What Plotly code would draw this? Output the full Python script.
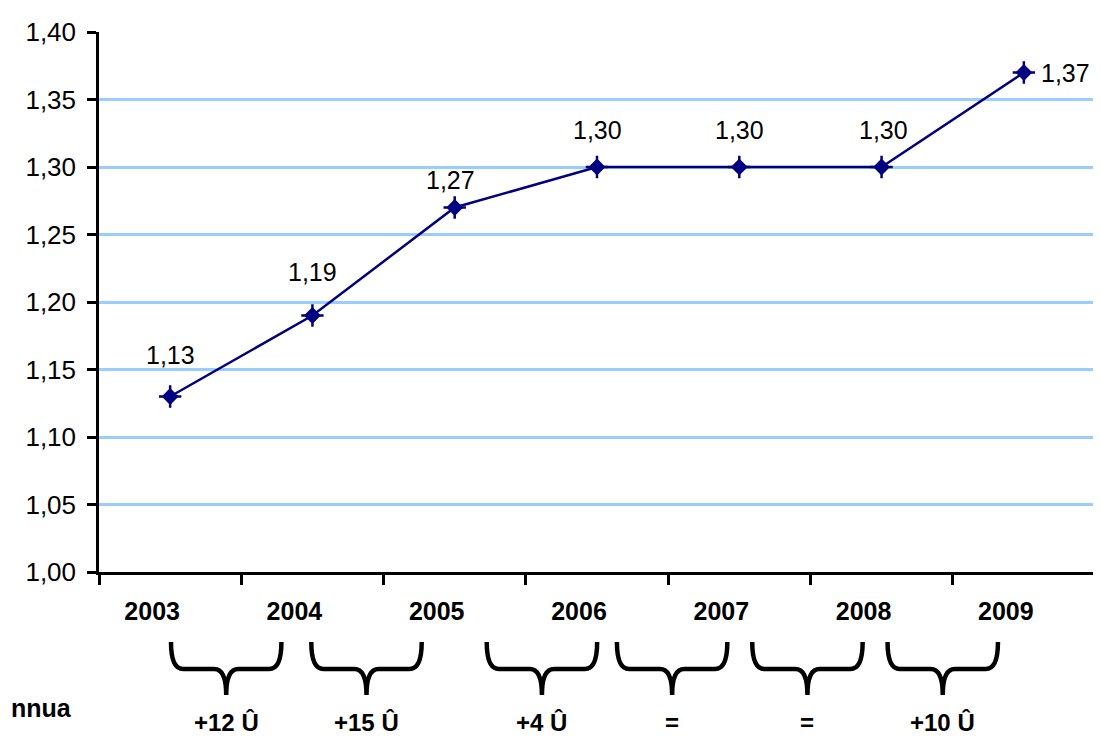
import plotly.graph_objects as go

years = ["2003", "2004", "2005", "2006", "2007", "2008", "2009"]
values = [1.13, 1.19, 1.27, 1.30, 1.30, 1.30, 1.37]
value_labels = ["1,13", "1,19", "1,27", "1,30", "1,30", "1,30", "1,37"]
change_labels = ["+12 Û", "+15 Û", "+4 Û", "=", "=", "+10 Û"]
side_label = "nnua"
y_ticks = [1.00, 1.05, 1.10, 1.15, 1.20, 1.25, 1.30, 1.35, 1.40]

# layout-only tweaks (pixel / category-unit offsets)
label_yshift = [42, 44, 28, 37, 37, 37, 0]
label_xshift = [0, 0, -4, 0, 0, 2, 42]
brace_offset = [-0.106, -0.12, 0.113, 0.028, -0.021, -0.07]

NAVY = "#000080"
FONT = "Liberation Sans, Arial, sans-serif"

fig = go.Figure()
fig.add_trace(go.Scatter(
    x=years, y=values, mode="lines+markers",
    line=dict(color=NAVY, width=2.5),
    marker=dict(symbol="diamond", size=13, color=NAVY),
    hoverinfo="skip", showlegend=False,
))
fig.add_trace(go.Scatter(
    x=years, y=values, mode="markers",
    marker=dict(symbol="cross-thin", size=16, line=dict(color=NAVY, width=2.5)),
    hoverinfo="skip", showlegend=False,
))

for i, (v, t) in enumerate(zip(values, value_labels)):
    fig.add_annotation(x=i, y=v, xref="x", yref="y", text=t, showarrow=False,
                       xanchor="center", yanchor="middle",
                       xshift=label_xshift[i], yshift=label_yshift[i],
                       font=dict(family=FONT, size=25, color="black"))

n = len(years)
top_px, bar_px, tip_px = 70, 97, 123  # below the x axis
plot_h = 540.0
plot_w = 996.0
def py(px):
    return -px / plot_h

def xp(v):
    return (v + 0.5) / n

half_w = 0.388
d = 0.085
for i, lab in enumerate(change_labels):
    c = i + 0.5 + brace_offset[i]
    xl, xr = c - half_w, c + half_w
    yt, yb, ytip = py(top_px), py(bar_px), py(tip_px)
    path = (f"M {xp(xl)},{yt} Q {xp(xl)},{yb} {xp(xl + d)},{yb} "
            f"L {xp(c - d)},{yb} Q {xp(c)},{yb} {xp(c)},{ytip} "
            f"Q {xp(c)},{yb} {xp(c + d)},{yb} "
            f"L {xp(xr - d)},{yb} Q {xp(xr)},{yb} {xp(xr)},{yt}")
    fig.add_shape(type="path", path=path, xref="paper", yref="paper",
                  line=dict(color="black", width=4.5))
    fig.add_annotation(x=xp(c), y=py(150), xref="paper", yref="paper",
                       xanchor="center", yanchor="middle",
                       text=f"<b>{lab}</b>", showarrow=False,
                       font=dict(family=FONT, size=24, color="black"))

fig.add_annotation(x=-90 / plot_w, y=py(136), xref="paper", yref="paper",
                   xanchor="left", yanchor="middle",
                   text=f"<b>{side_label}</b>", showarrow=False,
                   font=dict(family=FONT, size=25, color="black"))

fig.update_layout(
    width=1093, height=739,
    margin=dict(l=91, r=6, t=24, b=175),
    paper_bgcolor="white", plot_bgcolor="white",
    separators=",.",
    font=dict(family=FONT, size=24, color="black"),
)
fig.update_xaxes(
    type="category", range=[-0.5, n - 0.5],
    showline=True, linecolor="black", linewidth=2.5,
    ticks="outside", ticklen=10, tickwidth=2.5, tickcolor="black",
    tickson="boundaries", showgrid=False,
    tickfont=dict(family=FONT, size=25, color="black", weight="bold"),
    ticklabelshift=-18, ticklabelstandoff=15,
)
fig.update_yaxes(
    range=[1.0, 1.4], tickvals=y_ticks, tickformat=".2f",
    showline=True, linecolor="black", linewidth=2.5,
    ticks="outside", ticklen=9, tickwidth=2.5, tickcolor="black",
    showgrid=True, gridcolor="#99CCFF", gridwidth=2.5,
    zeroline=False,
    tickfont=dict(family=FONT, size=26, color="black"),
    ticklabelstandoff=6,
)

fig.write_html("out.html")
